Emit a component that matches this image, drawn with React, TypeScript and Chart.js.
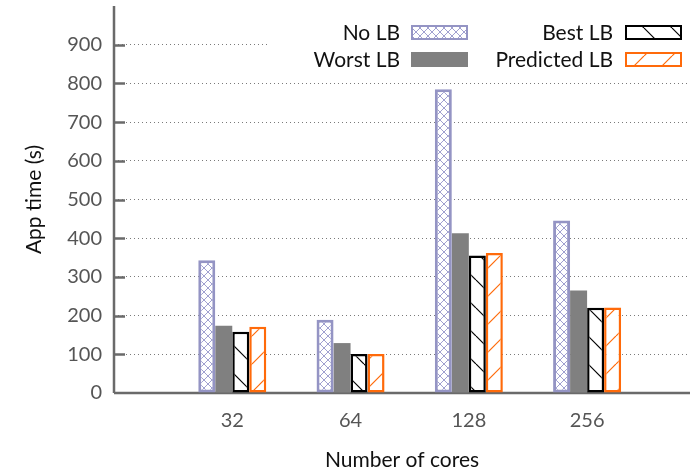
import React, { useEffect, useRef } from 'react';
import { Chart, registerables } from 'chart.js';

Chart.register(...registerables);

// ---- data ----
const CORES = ['32', '64', '128', '256'];
const SERIES_NAMES = ['No LB', 'Worst LB', 'Best LB', 'Predicted LB'];
const NO_LB = [343, 189, 785, 446];
const WORST_LB = [174, 129, 413, 265];
const BEST_LB = [158, 101, 355, 220];
const PREDICTED_LB = [171, 101, 362, 221];
const Y_MAX = 1000;
const Y_STEP = 100;

const FONT = 'Lato, "DejaVu Sans", sans-serif';
const LAVENDER = '#9494c4';
const ORANGE = '#ff6a0a';
const GREY = '#808080';
const AXIS = '#6a6a6a';

function makePattern(draw: (g: CanvasRenderingContext2D, s: number) => void, size: number) {
  const c = document.createElement('canvas');
  c.width = size;
  c.height = size;
  const g = c.getContext('2d') as CanvasRenderingContext2D;
  g.fillStyle = '#ffffff';
  g.fillRect(0, 0, size, size);
  draw(g, size);
  const p = g.createPattern(c, 'repeat');
  return p as CanvasPattern;
}

function crossPattern() {
  return makePattern((g, s) => {
    g.strokeStyle = '#a0a0d0';
    g.lineWidth = 1;
    for (const k of [-s, 0, s]) {
      g.beginPath();
      g.moveTo(k, 0);
      g.lineTo(k + s, s);
      g.stroke();
      g.beginPath();
      g.moveTo(k, s);
      g.lineTo(k + s, 0);
      g.stroke();
    }
  }, 8);
}

function backslashPattern(color: string) {
  return makePattern((g, s) => {
    g.strokeStyle = color;
    g.lineWidth = 1.2;
    for (const k of [-s, 0, s]) {
      g.beginPath();
      g.moveTo(k, 0);
      g.lineTo(k + s, s);
      g.stroke();
    }
  }, 28);
}

function slashPattern(color: string) {
  return makePattern((g, s) => {
    g.strokeStyle = color;
    g.lineWidth = 1.2;
    for (const k of [-s, 0, s]) {
      g.beginPath();
      g.moveTo(k, s);
      g.lineTo(k + s, 0);
      g.stroke();
    }
  }, 28);
}

export default function App() {
  const ref = useRef<HTMLCanvasElement | null>(null);

  useEffect(() => {
    const canvas = ref.current;
    if (!canvas) return;

    const pNo = crossPattern();
    const pBest = backslashPattern('#000000');
    const pPred = slashPattern(ORANGE);

    const styles = [
      { fill: pNo as any, border: LAVENDER, bw: 3 },
      { fill: GREY as any, border: GREY, bw: 0 },
      { fill: pBest as any, border: '#000000', bw: 2.5 },
      { fill: pPred as any, border: ORANGE, bw: 2.5 },
    ];
    const seriesValues = [NO_LB, WORST_LB, BEST_LB, PREDICTED_LB];

    const axesPlugin = {
      id: 'gnuAxes',
      beforeDatasetsDraw(chart: any) {
        const { ctx, chartArea } = chart;
        const y = chart.scales.y;
        ctx.save();
        ctx.strokeStyle = AXIS;
        ctx.lineWidth = 2.5;
        ctx.setLineDash([]);
        ctx.beginPath();
        ctx.moveTo(chartArea.left, chartArea.top);
        ctx.lineTo(chartArea.left, chartArea.bottom);
        ctx.stroke();
        ctx.beginPath();
        ctx.moveTo(chartArea.left, chartArea.bottom);
        ctx.lineTo(chartArea.right, chartArea.bottom);
        ctx.stroke();
        for (let v = Y_STEP; v < Y_MAX; v += Y_STEP) {
          const py = Math.round(y.getPixelForValue(v)) + 0.5;
          ctx.beginPath();
          ctx.moveTo(chartArea.left, py);
          ctx.lineTo(chartArea.left + 11, py);
          ctx.stroke();
        }
        ctx.restore();
      },
    };

    const legendPlugin = {
      id: 'gnuLegend',
      afterDraw(chart: any) {
        const { ctx } = chart;
        ctx.save();
        ctx.fillStyle = '#ffffff';
        ctx.fillRect(268, 18, 424, 54);
        const cols = [
          { textRight: 400, swX: 411 },
          { textRight: 613, swX: 625 },
        ];
        const rows = [
          { baseline: 39.5, swY: 25 },
          { baseline: 66.5, swY: 52 },
        ];
        const order = [
          [0, 0],
          [0, 1],
          [1, 0],
          [1, 1],
        ];
        ctx.font = `21px ${FONT}`;
        ctx.textAlign = 'right';
        ctx.textBaseline = 'alphabetic';
        SERIES_NAMES.forEach((name, i) => {
          const [c, r] = order[i];
          const col = cols[c];
          const row = rows[r];
          ctx.fillStyle = '#111111';
          ctx.fillText(name, col.textRight, row.baseline);
          const st = styles[i];
          const w = 57;
          const h = 15;
          ctx.fillStyle = st.fill;
          ctx.fillRect(col.swX, row.swY, w, h);
          if (st.bw > 0) {
            ctx.strokeStyle = st.border;
            ctx.lineWidth = 2;
            ctx.strokeRect(col.swX + 1, row.swY + 1, w - 2, h - 2);
          }
        });
        ctx.restore();
      },
    };

    const chart = new Chart(canvas, {
      type: 'bar',
      data: {
        datasets: SERIES_NAMES.map((name, i) => ({
          label: name,
          data: CORES.map((_, j) => ({ x: j + 1, y: seriesValues[i][j] })),
          backgroundColor: styles[i].fill,
          borderColor: styles[i].border,
          borderWidth: styles[i].bw,
          borderSkipped: false,
          categoryPercentage: 0.575,
          barPercentage: 1.0,
        })),
      },
      options: {
        animation: false,
        responsive: false,
        devicePixelRatio: 1,
        layout: { padding: { top: 6, right: 2, left: 0, bottom: 0 } },
        plugins: {
          legend: { display: false },
          tooltip: { enabled: false },
        },
        scales: {
          x: {
            type: 'linear',
            offset: false,
            min: 0,
            max: 4.87,
            grid: { display: false, drawTicks: false },
            border: { display: false },
            ticks: {
              stepSize: 1,
              includeBounds: false,
              autoSkip: false,
              maxRotation: 0,
              padding: 16,
              color: '#555555',
              font: { family: FONT, size: 20 },
              callback: (v: any) => {
                const n = Number(v);
                return Number.isInteger(n) && n >= 1 && n <= CORES.length ? CORES[n - 1] : '';
              },
            },
            title: {
              display: true,
              text: 'Number of cores',
              color: '#111111',
              font: { family: FONT, size: 21 },
              padding: { top: 0, bottom: 0 },
            },
            afterFit: (s: any) => {
              s.height = 80;
              s.paddingLeft = 0;
              s.paddingRight = 0;
            },
          },
          y: {
            type: 'linear',
            min: 0,
            max: Y_MAX,
            grid: {
              drawTicks: false,
              lineWidth: 1,
              color: (c: any) =>
                c.tick && c.tick.value > 0 && c.tick.value < Y_MAX ? '#7a7a7a' : 'rgba(0,0,0,0)',
            },
            border: { display: false, dash: [1, 3] },
            ticks: {
              stepSize: Y_STEP,
              padding: 12,
              color: '#555555',
              font: { family: FONT, size: 20 },
              callback: (v: any) => (Number(v) >= Y_MAX ? '' : String(v)),
            },
            title: {
              display: true,
              text: 'App time (s)',
              color: '#111111',
              font: { family: FONT, size: 21 },
              padding: { top: 22, bottom: 0 },
            },
            afterFit: (s: any) => {
              s.width = 114;
              s.paddingTop = 0;
              s.paddingBottom = 0;
            },
          },
        },
      } as any,
      plugins: [axesPlugin, legendPlugin],
    });

    return () => {
      chart.destroy();
    };
  }, []);

  return (
    <div style={{ position: 'absolute', left: 0, top: 0, width: 692, height: 473, background: '#ffffff' }}>
      <canvas ref={ref} width={692} height={473} style={{ display: 'block', width: 692, height: 473 }} />
    </div>
  );
}
